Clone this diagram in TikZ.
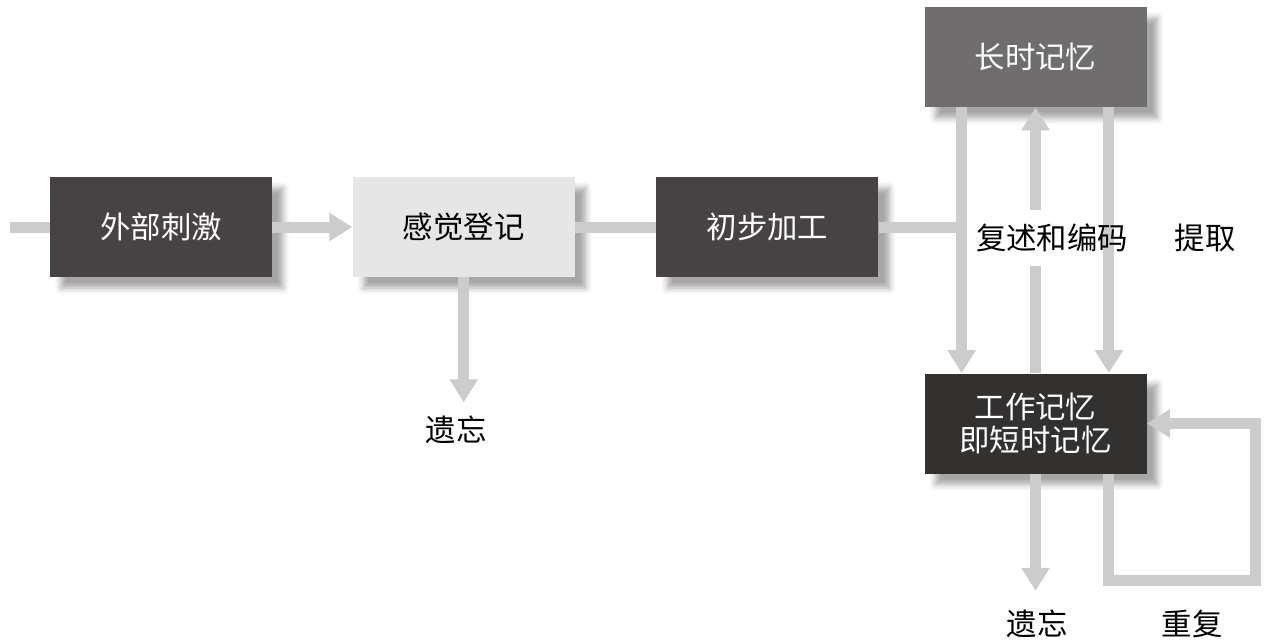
\documentclass[tikz,border=0pt]{standalone}
\usepackage{fontspec}
\setmainfont{Noto Sans CJK SC}
\usetikzlibrary{arrows.meta,positioning,calc,shadows.blur}
\definecolor{boxdark}{HTML}{474344}
\definecolor{boxlight}{HTML}{E6E6E6}
\definecolor{boxmid}{HTML}{6F6D6E}
\definecolor{boxdeep}{HTML}{333130}
\definecolor{flowgray}{HTML}{CCCCCC}

\begin{document}
\begin{tikzpicture}[font=\fontsize{17.3}{18.5}\selectfont,node distance=1.6cm,
   b/.style={minimum width=4.44cm,minimum height=2cm,align=center,text=white,
             blur shadow={shadow xshift=0.22cm,shadow yshift=-0.22cm,
                          shadow blur radius=0.12cm,shadow opacity=35}},
   flow/.style={draw=flowgray,line width=0.22cm},
   tip/.style={flow,-{Triangle[width=0.54cm,length=0.46cm]}}]
  \useasboundingbox (0,0) rectangle (25.4,-12.84);
  \node[b,fill=boxdark] (ext) at (3.22,-4.54) {外部刺激};
  \node[b,fill=boxlight,text=black,right=1.6cm of ext] (sens) {感觉登记};
  \node[b,fill=boxdark,right=1.62cm of sens] (proc) {初步加工};
  \node[b,fill=boxmid] (ltm) at (20.71,-1.14) {长时记忆};
  \node[b,fill=boxdeep] (wm) at (20.71,-8.47) {工作记忆\\即短时记忆};
  \coordinate (in) at (0.2,-4.54);
  \coordinate (ltl) at ($(ltm.south west)+(0.75,0)$);
  \coordinate (ltr) at ($(ltm.south east)+(-0.76,0)$);
  \draw[flow] (in) -- (ext.west);
  \draw[tip] (ext) -- (sens);
  \draw[flow] (sens) -- (proc);
  \draw[flow] (proc.east) -- (proc.east -| ltl);
  \draw[tip] (ltl) -- (ltl |- wm.north);
  \draw[tip] (ltr) -- (ltr |- wm.north);
  % rehearsal goes up, with a gap for its label
  \node[inner ysep=0.28cm] (code) at (21.04,-4.76) {复述和编码};
  \draw[flow] (wm.north) -- (wm.north |- code.south);
  \draw[tip] (ltm.south |- code.north) -- (ltm.south);
  \node (get) at (24.1,-4.76) {提取};
  \coordinate (f1) at ($(sens.south)+(0,-2.5)$);
  \draw[tip] (sens.south) -- (f1);
  \node (lost1) at (9.12,-8.6) {遗忘};
  \coordinate (f2) at ($(wm.south)+(0,-2.34)$);
  \draw[tip] (wm.south) -- (f2);
  \node (lost2) at (20.74,-12.48) {遗忘};
  \node (rep) at (23.84,-12.48) {重复};
  % rehearsal loop
  \coordinate (wmr) at ($(wm.south east)+(-0.76,0)$);
  \coordinate (loop) at (25.1,-11.6);
  \draw[tip] (wmr) |- (loop) |- (wm.east);
\end{tikzpicture}
\end{document}
